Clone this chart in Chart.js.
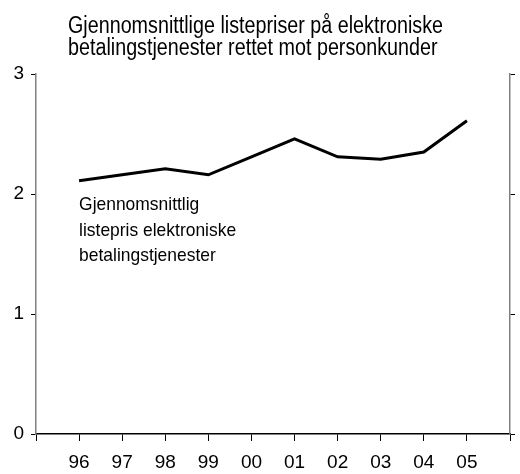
<!DOCTYPE html>
<html>
<head>
<meta charset="utf-8">
<script src="https://cdn.jsdelivr.net/npm/chart.js@4/dist/chart.umd.min.js"></script>
<style>
  html, body { margin: 0; padding: 0; background: #ffffff; }
  #wrap { width: 520px; height: 474px; position: relative; }
</style>
</head>
<body>
<div id="wrap"><canvas id="c" width="520" height="474"></canvas></div>
<script>
// ---- data ----
const categories = ['', '96', '97', '98', '99', '00', '01', '02', '03', '04', '05', ''];
const listepris = [null, 2.11, 2.16, 2.21, 2.16, 2.31, 2.46, 2.31, 2.29, 2.35, 2.61, null];
const yTicks = [0, 1, 2, 3];
const titleLines = ['Gjennomsnittlige listepriser på elektroniske', 'betalingstjenester rettet mot personkunder'];
const seriesLabelLines = ['Gjennomsnittlig', 'listepris elektroniske', 'betalingstjenester'];

const FONT = "'Liberation Sans Narrow', 'Arial Narrow', 'Liberation Sans', Arial, sans-serif";

// draw text condensed horizontally (imitates a narrow face)
function narrowText(ctx, text, x, y, sx) {
  ctx.save();
  ctx.translate(x, y);
  ctx.scale(sx, 1);
  ctx.fillText(text, 0, 0);
  ctx.restore();
}

const textPlugin = {
  id: 'texts',
  afterDraw(chart) {
    const ctx = chart.ctx;
    ctx.save();
    ctx.fillStyle = '#000';
    ctx.textAlign = 'left';
    ctx.textBaseline = 'alphabetic';
    ctx.font = '23px ' + FONT;
    const tw = ctx.measureText(titleLines[0]).width;
    const tsx = 375 / tw;
    narrowText(ctx, titleLines[0], 68, 33, tsx);
    narrowText(ctx, titleLines[1], 68, 55, tsx);
    const xs = chart.scales.x;
    const x0 = xs.getPixelForValue(1);
    ctx.font = '19px ' + FONT;
    const aw = ctx.measureText(seriesLabelLines[1]).width;
    const asx = 157 / aw;
    seriesLabelLines.forEach((t, i) => narrowText(ctx, t, x0, 210 + i * 25.5, asx));
    ctx.restore();
  }
};

new Chart(document.getElementById('c'), {
  type: 'line',
  data: {
    labels: categories,
    datasets: [{
      label: 'Gjennomsnittlig listepris elektroniske betalingstjenester',
      data: listepris,
      borderColor: '#000',
      borderWidth: 3,
      pointRadius: 0,
      tension: 0,
      fill: false,
      yAxisID: 'y'
    }]
  },
  options: {
    responsive: false,
    animation: false,
    layout: { padding: { top: 74, left: 0, right: 0, bottom: 0 } },
    plugins: { legend: { display: false }, title: { display: false }, tooltip: { enabled: false } },
    scales: {
      x: {
        type: 'category',
        offset: false,
        grid: { drawOnChartArea: false, color: '#000', tickLength: 7, lineWidth: 1 },
        border: { color: '#000', width: 1.5 },
        ticks: { color: '#000', font: { family: FONT, size: 19 }, padding: 10, maxRotation: 0, autoSkip: false },
        afterFit(s) { s.height = 40; }
      },
      y: {
        position: 'left',
        min: 0, max: 3,
        afterBuildTicks(s) { s.ticks = yTicks.map(v => ({ value: v })); },
        grid: { drawOnChartArea: false, color: '#000', tickLength: 5 },
        border: { color: '#808080', width: 1.5 },
        ticks: { color: '#000', font: { family: FONT, size: 19 }, padding: 7 },
        afterFit(s) { s.width = 36; }
      },
      y2: {
        position: 'right',
        min: 0, max: 3,
        afterBuildTicks(s) { s.ticks = yTicks.map(v => ({ value: v })); },
        grid: { drawOnChartArea: false, color: '#000', tickLength: 5 },
        border: { color: '#808080', width: 1.5 },
        ticks: { display: false },
        afterFit(s) { s.width = 3; }
      }
    }
  },
  plugins: [textPlugin]
});
</script>
</body>
</html>
